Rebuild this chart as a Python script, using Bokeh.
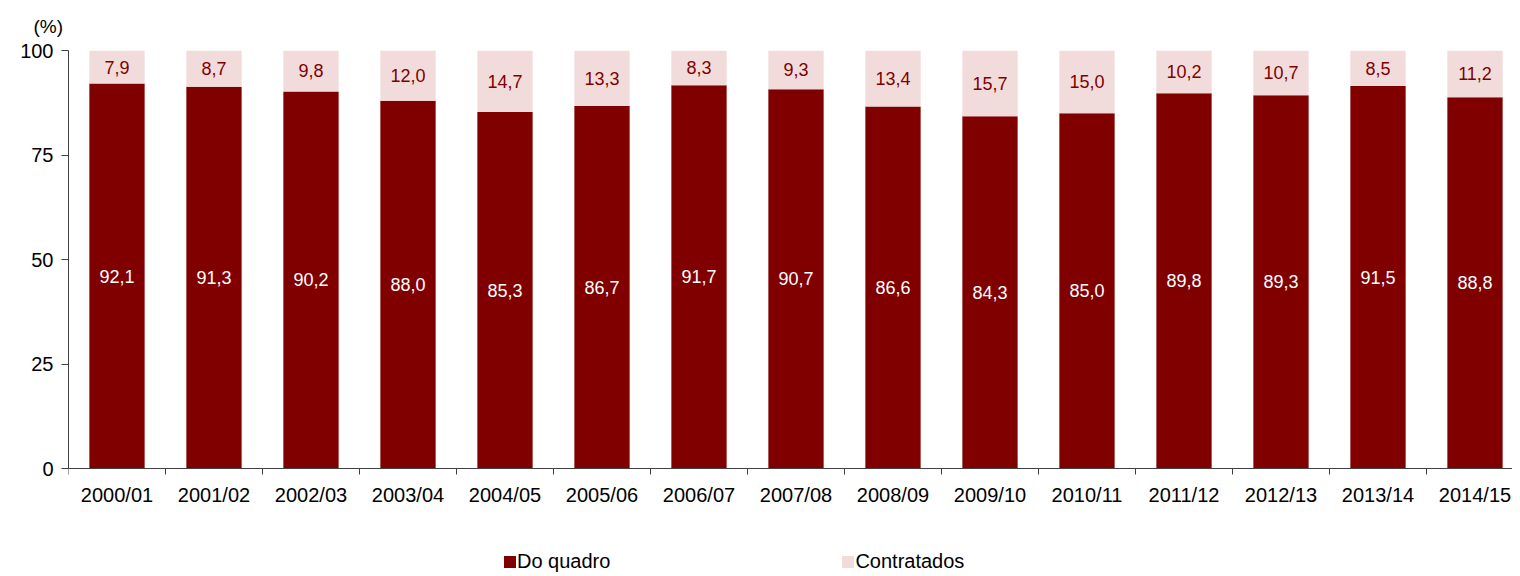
from bokeh.plotting import figure
from bokeh.models import ColumnDataSource, Range1d, FixedTicker, LabelSet, Title, Legend, LegendItem
from bokeh.core.properties import value
from bokeh.embed import file_html
from bokeh.resources import INLINE

categories = ["2000/01", "2001/02", "2002/03", "2003/04", "2004/05", "2005/06", "2006/07",
              "2007/08", "2008/09", "2009/10", "2010/11", "2011/12", "2012/13", "2013/14", "2014/15"]
do_quadro = [92.1, 91.3, 90.2, 88.0, 85.3, 86.7, 91.7, 90.7, 86.6, 84.3, 85.0, 89.8, 89.3, 91.5, 88.8]
contratados = [7.9, 8.7, 9.8, 12.0, 14.7, 13.3, 8.3, 9.3, 13.4, 15.7, 15.0, 10.2, 10.7, 8.5, 11.2]
y_ticks = [0, 25, 50, 75, 100]

FONT = "Liberation Sans"
DARK = "#800000"
LIGHT = "#F2DCDB"

W, H = 1512, 576
LEFT, TOP = 68, 50
ZERO_Y = 468          # pixel row of value 0
CAT_W = 97.0          # pixels per category
PX_PER_UNIT = (ZERO_Y - TOP) / 100.0

def fmt(v):
    return f"{v:.1f}".replace(".", ",")

xs = [i + 0.5 for i in range(len(categories))]
src = ColumnDataSource(dict(
    x=xs,
    dq=do_quadro,
    ct=contratados,
    dq_mid=[v / 2 for v in do_quadro],
    ct_mid=[d + c / 2 for d, c in zip(do_quadro, contratados)],
    dq_lab=[fmt(v) for v in do_quadro],
    ct_lab=[fmt(v) for v in contratados],
))

p = figure(width=W, height=H, output_backend="svg", toolbar_location=None,
           x_range=Range1d(0, (W - LEFT) / CAT_W),
           y_range=Range1d(-(H - ZERO_Y) / PX_PER_UNIT, 100),
           min_border_left=LEFT, min_border_right=0, min_border_top=TOP, min_border_bottom=0)
p.outline_line_color = None
p.background_fill_color = "white"

r = p.vbar_stack(["dq", "ct"], x="x", width=0.57, source=src, color=[DARK, LIGHT], line_color=None)

p.add_layout(LabelSet(x="x", y="dq_mid", text="dq_lab", source=src, text_align="center",
                      text_baseline="middle", text_color="white", text_font=value(FONT),
                      text_font_size="18px"))
p.add_layout(LabelSet(x="x", y="ct_mid", text="ct_lab", source=src, text_align="center",
                      text_baseline="middle", text_color=DARK, text_font=value(FONT),
                      text_font_size="18px"))

# axes
p.xaxis.fixed_location = 0
p.xaxis.ticker = FixedTicker(ticks=xs, minor_ticks=list(range(len(categories) + 1)))
p.xaxis.major_label_overrides = {x: c for x, c in zip(xs, categories)}
p.xaxis.major_tick_out = 0
p.xaxis.major_tick_in = 0
p.xaxis.minor_tick_out = 6
p.xaxis.minor_tick_in = 0
p.xaxis.major_label_standoff = 9
p.yaxis.ticker = FixedTicker(ticks=y_ticks)
p.yaxis.bounds = (0, 100)
p.yaxis.major_tick_out = 7
p.yaxis.major_tick_in = 0
p.yaxis.major_label_standoff = 8
for ax in (p.xaxis, p.yaxis):
    ax.axis_line_color = "#404040"
    ax.major_tick_line_color = "#404040"
    ax.minor_tick_line_color = "#404040"
    ax.major_label_text_font = FONT
    ax.major_label_text_font_size = "20px"
    ax.major_label_text_color = "black"
p.yaxis.minor_tick_line_color = None

p.xgrid.grid_line_color = None
p.ygrid.ticker = FixedTicker(ticks=[100])
p.ygrid.grid_line_color = "#d9d9d9"
p.ygrid.grid_line_width = 2

p.add_layout(Title(text="(%)", align="left", offset=-35, standoff=26, vertical_align="middle",
                   text_font=FONT, text_font_size="19px", text_font_style="normal",
                   text_color="black"), "above")

legend = Legend(items=[LegendItem(label="Do quadro", renderers=[r[0]]),
                       LegendItem(label="Contratados", renderers=[r[1]])],
                orientation="horizontal", location=(434, 3), padding=0, margin=0,
                spacing=230, glyph_width=15, glyph_height=15, label_height=15, label_standoff=0,
                label_text_font=FONT, label_text_font_size="20px", label_text_color="black",
                border_line_color=None, background_fill_alpha=0)
p.add_layout(legend, "center")

open("out.html", "w").write(file_html(p, INLINE))
